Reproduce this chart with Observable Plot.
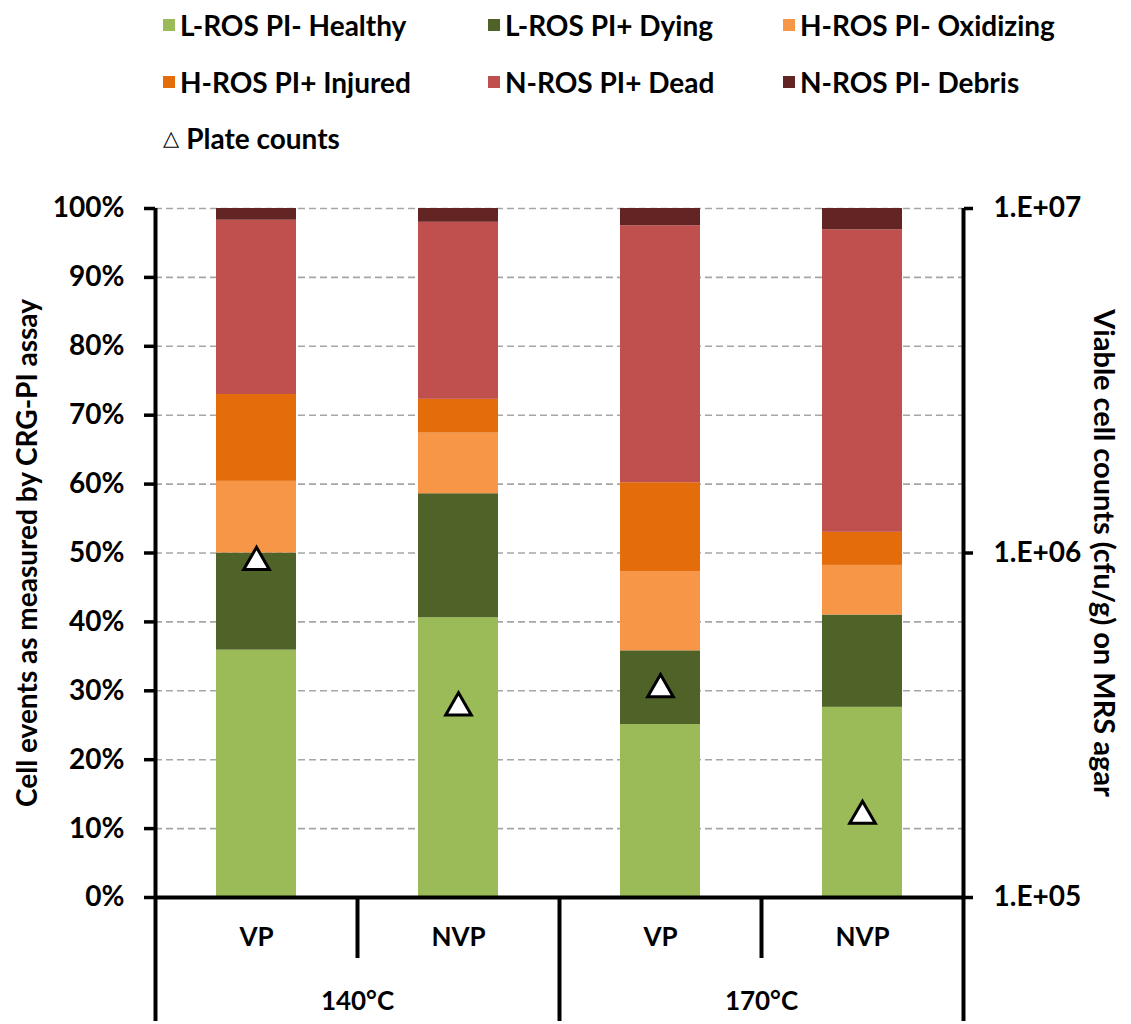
<!DOCTYPE html>
<html><head><meta charset="utf-8">
<script src="https://cdn.jsdelivr.net/npm/d3@7"></script>
<script src="https://cdn.jsdelivr.net/npm/@observablehq/plot@0.6"></script>
<style>
body{margin:0;background:#fff;}
#wrap{position:relative;width:1131px;height:1024px;font-family:Lato, sans-serif;font-weight:700;}
#legend{position:relative;width:1131px;height:170px;}
.item{position:absolute;display:flex;align-items:center;font-size:28px;line-height:34px;height:34px;white-space:nowrap;color:#000;}
.sw{width:12px;height:12px;margin-right:5px;flex:none;}
#chart{position:relative;width:1131px;height:854px;}
#chart svg{position:absolute;left:0;top:0;}
</style></head><body>
<div id="wrap"><div id="legend"></div><div id="chart"></div></div>
<script>
// ---- data ----
const conditions = ["VP", "NVP", "VP", "NVP"];
const temperatures = ["140°C", "170°C"];
const segments = ["L-ROS PI- Healthy", "L-ROS PI+ Dying", "H-ROS PI- Oxidizing", "H-ROS PI+ Injured", "N-ROS PI+ Dead", "N-ROS PI- Debris"];
const segColors = ["#9BBB59", "#4F6228", "#F79646", "#E46C0A", "#C0504D", "#632523"];
const healthy   = [35.9, 40.6, 25.1, 27.6];
const dying     = [14.1, 18.0, 10.7, 13.4];
const oxidizing = [10.4, 8.8, 11.5, 7.2];
const injured   = [12.6, 4.9, 12.9, 4.8];
const dead      = [25.3, 25.7, 37.3, 43.9];
const debris    = [1.7, 2.0, 2.5, 3.1];
const plateCounts = [9.6e5, 3.63e5, 4.1e5, 1.76e5];
const plateLabel = "Plate counts";
const yTicks = [0, 10, 20, 30, 40, 50, 60, 70, 80, 90, 100];
const gridTicks = [10, 20, 30, 40, 50, 60, 70, 80, 90, 100];
const logTicks = [1e5, 1e6, 1e7];
const yTitle = "Cell events as measured by CRG-PI assay";
const y2Title = "Viable cell counts (cfu/g) on MRS agar";

// ---- legend ----
const legend = document.getElementById("legend");
const colX = [163, 488, 783];
const rowY = [25, 82, 138];
segments.forEach((s, k) => {
  const it = document.createElement("div");
  it.className = "item";
  it.style.left = colX[k % 3] + "px";
  it.style.top = (rowY[Math.floor(k / 3)] - 17) + "px";
  it.innerHTML = `<span class="sw" style="background:${segColors[k]}"></span><span>${s}</span>`;
  legend.appendChild(it);
});
{
  const it = document.createElement("div");
  it.className = "item";
  it.style.left = colX[0] + "px";
  it.style.top = (rowY[2] - 17) + "px";
  it.innerHTML = `<span style="font-family:'DejaVu Sans';font-weight:400;font-size:21px;margin-right:7px">△</span><span>${plateLabel}</span>`;
  legend.appendChild(it);
}

// ---- table ----
const series = [healthy, dying, oxidizing, injured, dead, debris];
const table = [];
segments.forEach((s, k) => series[k].forEach((v, i) => table.push({i, seg: s, value: v})));

const barHalf = 0.198;
const common = {
  width: 1131, height: 854,
  marginTop: 38, marginBottom: 127, marginLeft: 155, marginRight: 168,
  x: {domain: [0, conditions.length], axis: null},
  style: {fontFamily: "Lato, sans-serif", fontWeight: "700", fontSize: "27px", color: "#000", background: "transparent", overflow: "visible"}
};

const p1 = Plot.plot({
  ...common,
  y: {domain: [0, 100], axis: null},
  color: {domain: segments, range: segColors},
  marks: [
    Plot.ruleY(gridTicks, {stroke: "#a6a6a6", strokeDasharray: "7,4", strokeWidth: 1.6}),
    Plot.rectY(table, Plot.stackY({x1: d => d.i + 0.5 - barHalf, x2: d => d.i + 0.5 + barHalf, y: "value", fill: "seg"})),
    Plot.axisY({ticks: yTicks, tickFormat: d => d + "%", tickSize: 11, tickPadding: 20, strokeWidth: 3.5, fontSize: 28, label: null}),
    Plot.ruleX([0], {strokeWidth: 4}),
    Plot.ruleY([0], {strokeWidth: 4}),
    Plot.axisX({ticks: [1, 3], tickSize: 61, tickFormat: () => "", strokeWidth: 4, label: null}),
    Plot.axisX({ticks: [0, 2, 4], tickSize: 124, tickFormat: () => "", strokeWidth: 4, label: null}),
    Plot.axisX({ticks: conditions.map((_, i) => i + 0.5), tickSize: 0, tickPadding: 30, tickFormat: d => conditions[Math.floor(d)], fontSize: 26, label: null}),
    Plot.axisX({ticks: temperatures.map((_, j) => 2 * j + 1), tickSize: 0, tickPadding: 94, tickFormat: d => temperatures[(d - 1) / 2], fontSize: 26, label: null}),
    Plot.text([yTitle], {frameAnchor: "left", dx: -127, rotate: -90, textAnchor: "middle", fontSize: 28, fontWeight: 700})
  ]
});

const p2 = Plot.plot({
  ...common,
  y: {type: "log", domain: [1e5, 1e7], axis: null},
  marks: [
    Plot.ruleX([conditions.length], {strokeWidth: 4}),
    Plot.axisY({anchor: "right", ticks: logTicks, tickFormat: d => "1.E+0" + Math.round(Math.log10(d)), tickSize: 9, tickPadding: 21, strokeWidth: 3.5, fontSize: 28, label: null}),
    Plot.dot(plateCounts, {x: (d, i) => i + 0.5, y: d => d, symbol: "triangle", r: 9.5, fill: "white", stroke: "black", strokeWidth: 3, dy: 3}),
    Plot.text([y2Title], {frameAnchor: "right", dx: 140, rotate: 90, textAnchor: "middle", fontSize: 29, fontWeight: 700})
  ]
});

const chart = document.getElementById("chart");
chart.appendChild(p1);
chart.appendChild(p2);
</script>
</body></html>
